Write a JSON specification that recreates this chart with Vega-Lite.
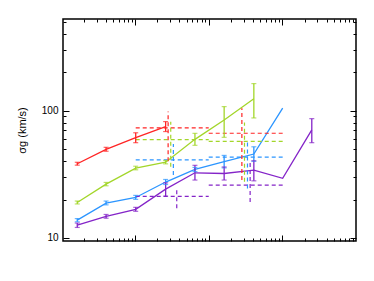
{
  "$schema": "https://vega.github.io/schema/vega-lite/v6.json",
  "width": 293,
  "height": 222,
  "autosize": "none",
  "padding": {"left": 63, "top": 19, "right": 18, "bottom": 40},
  "background": "white",
  "config": {
    "view": {"stroke": "black", "strokeWidth": 1.5},
    "axis": {"domainColor": "black", "tickColor": "black", "labelColor": "black", "titleColor": "black", "labelFont": "Liberation Sans", "titleFont": "Liberation Sans", "grid": false, "domainWidth": 1, "tickWidth": 1}
  },
  "datasets": {
    "pts": [
      {"s": "red", "x": 0.164, "y": 38.3, "lo": 37.3, "hi": 39.3},
      {"s": "red", "x": 0.404, "y": 49.7, "lo": 48.0, "hi": 51.5},
      {"s": "red", "x": 1.02, "y": 61.3, "lo": 56.0, "hi": 67.0},
      {"s": "red", "x": 2.6, "y": 74.8, "lo": 68.5, "hi": 82.0},
      {"s": "green", "x": 0.164, "y": 19.0, "lo": 18.5, "hi": 19.5},
      {"s": "green", "x": 0.404, "y": 26.5, "lo": 25.7, "hi": 27.3},
      {"s": "green", "x": 1.02, "y": 35.4, "lo": 34.3, "hi": 36.6},
      {"s": "green", "x": 2.6, "y": 39.4, "lo": 38.2, "hi": 40.6},
      {"s": "green", "x": 6.5, "y": 59.5, "lo": 53.4, "hi": 66.3},
      {"s": "green", "x": 16.2, "y": 84.5, "lo": 61.7, "hi": 107.5},
      {"s": "green", "x": 41, "y": 124, "lo": 87.6, "hi": 163},
      {"s": "blue", "x": 0.164, "y": 13.8, "lo": 13.4, "hi": 14.2},
      {"s": "blue", "x": 0.404, "y": 18.8, "lo": 18.2, "hi": 19.5},
      {"s": "blue", "x": 1.02, "y": 20.8, "lo": 20.1, "hi": 21.6},
      {"s": "blue", "x": 2.6, "y": 27.5, "lo": 26.3, "hi": 28.8},
      {"s": "blue", "x": 6.5, "y": 34.5, "lo": 33.2, "hi": 35.8},
      {"s": "blue", "x": 16.2, "y": 39.7, "lo": 35.5, "hi": 44.5},
      {"s": "blue", "x": 41, "y": 45.6, "lo": 40.0, "hi": 52.0},
      {"s": "blue", "x": 101, "y": 104.5, "lo": null, "hi": null},
      {"s": "purple", "x": 0.164, "y": 12.6, "lo": 12.1, "hi": 13.1},
      {"s": "purple", "x": 0.404, "y": 14.8, "lo": 14.3, "hi": 15.3},
      {"s": "purple", "x": 1.02, "y": 16.8, "lo": 16.2, "hi": 17.4},
      {"s": "purple", "x": 2.6, "y": 24.2, "lo": 21.3, "hi": 27.1},
      {"s": "purple", "x": 6.5, "y": 32.5, "lo": 28.5, "hi": 37.2},
      {"s": "purple", "x": 16.2, "y": 32.1, "lo": 28.5, "hi": 36.1},
      {"s": "purple", "x": 41, "y": 34.1, "lo": 28.1, "hi": 40.4},
      {"s": "purple", "x": 101, "y": 29.4, "lo": null, "hi": null},
      {"s": "purple", "x": 251, "y": 70.5, "lo": 56.0, "hi": 86.5}
    ],
    "hsegs": [
      {"s": "red", "x": 1.02, "x2": 10, "y": 73.1},
      {"s": "red", "x": 10, "x2": 101, "y": 66.4},
      {"s": "green", "x": 1.02, "x2": 10, "y": 59.1},
      {"s": "green", "x": 10, "x2": 101, "y": 57.4},
      {"s": "blue", "x": 1.02, "x2": 10, "y": 41.1},
      {"s": "blue", "x": 10, "x2": 101, "y": 43.2},
      {"s": "purple", "x": 1.02, "x2": 10, "y": 21.2},
      {"s": "purple", "x": 10, "x2": 101, "y": 26.0}
    ],
    "vsegs": [
      {"s": "red", "x": 2.81, "y": 40.0, "y2": 98.3},
      {"s": "red", "x": 28.2, "y": 28.5, "y2": 104.4},
      {"s": "green", "x": 3.05, "y": 36.2, "y2": 81.9},
      {"s": "green", "x": 30.6, "y": 27.6, "y2": 80.5},
      {"s": "blue", "x": 3.31, "y": 31.2, "y2": 54.7},
      {"s": "blue", "x": 33.6, "y": 24.5, "y2": 58.8},
      {"s": "purple", "x": 3.68, "y": 17.1, "y2": 24.5},
      {"s": "purple", "x": 36.5, "y": 19.2, "y2": 40.9}
    ]
  },
  "layer": [
    {
      "data": {"name": "pts"},
      "mark": {"type": "line", "strokeWidth": 1.3},
      "encoding": {
        "x": {"field": "x", "type": "quantitative", "scale": {"type": "log", "domain": [0.105, 1000]},
          "axis": {"orient": "bottom", "title": null, "labels": false, "domain": false,
            "values": [0.2,0.3,0.4,0.5,0.6,0.7,0.8,0.9,1,2,3,4,5,6,7,8,9,10,20,30,40,50,60,70,80,90,100,200,300,400,500,600,700,800,900],
            "tickSize": {"condition": {"test": "datum.value == 1 || datum.value == 10 || datum.value == 100", "value": -6}, "value": -3}}},
        "y": {"field": "y", "type": "quantitative", "scale": {"type": "log", "domain": [9.47, 524]},
          "axis": {"orient": "left", "title": "σg (km/s)", "titleFontWeight": "normal", "titleFontSize": 11, "titlePadding": 14, "domain": false,
            "labelFontSize": 10, "labelPadding": 11,
            "values": [10,20,30,40,50,60,70,80,90,100,200,300,400,500],
            "labelExpr": "datum.value == 10 || datum.value == 100 ? datum.value : ''",
            "tickSize": {"condition": {"test": "datum.value == 10 || datum.value == 100", "value": -6}, "value": -3}}},
        "color": {"field": "s", "type": "nominal", "scale": {"domain": ["red", "green", "blue", "purple"], "range": ["#ff2424", "#a3d62a", "#2b95ff", "#8424c8"]}, "legend": null}
      }
    },
    {
      "data": {"name": "hsegs"},
      "mark": {"type": "rule", "strokeDash": [4, 3], "strokeWidth": 1.2},
      "encoding": {
        "x": {"field": "x", "type": "quantitative", "scale": {"type": "log", "domain": [0.105, 1000]},
          "axis": {"orient": "top", "title": null, "labels": false, "domain": false,
            "values": [0.2,0.3,0.4,0.5,0.6,0.7,0.8,0.9,1,2,3,4,5,6,7,8,9,10,20,30,40,50,60,70,80,90,100,200,300,400,500,600,700,800,900],
            "tickSize": {"condition": {"test": "datum.value == 1 || datum.value == 10 || datum.value == 100", "value": -6}, "value": -3}}},
        "x2": {"field": "x2"},
        "y": {"field": "y", "type": "quantitative", "scale": {"type": "log", "domain": [9.47, 524]},
          "axis": {"orient": "right", "title": null, "labels": false, "domain": false,
            "values": [10,20,30,40,50,60,70,80,90,100,200,300,400,500],
            "tickSize": {"condition": {"test": "datum.value == 10 || datum.value == 100", "value": -6}, "value": -3}}},
        "color": {"field": "s", "type": "nominal", "legend": null}
      }
    },
    {
      "data": {"name": "vsegs"},
      "mark": {"type": "rule", "strokeDash": [4, 3], "strokeWidth": 1.2},
      "encoding": {
        "x": {"field": "x", "type": "quantitative", "scale": {"type": "log", "domain": [0.105, 1000]}, "axis": null},
        "y": {"field": "y", "type": "quantitative", "scale": {"type": "log", "domain": [9.47, 524]}, "axis": null},
        "y2": {"field": "y2"},
        "color": {"field": "s", "type": "nominal", "legend": null}
      }
    },
    {
      "data": {"name": "pts"},
      "transform": [{"filter": "isValid(datum.lo)"}],
      "mark": {"type": "rule", "strokeWidth": 1.3},
      "encoding": {
        "x": {"field": "x", "type": "quantitative", "scale": {"type": "log", "domain": [0.105, 1000]}, "axis": null},
        "y": {"field": "lo", "type": "quantitative", "scale": {"type": "log", "domain": [9.47, 524]}, "axis": null},
        "y2": {"field": "hi"},
        "color": {"field": "s", "type": "nominal", "legend": null}
      }
    },
    {
      "data": {"name": "pts"},
      "transform": [{"filter": "isValid(datum.lo)"}],
      "mark": {"type": "tick", "orient": "horizontal", "size": 5, "thickness": 1.2},
      "encoding": {
        "x": {"field": "x", "type": "quantitative", "scale": {"type": "log", "domain": [0.105, 1000]}, "axis": null},
        "y": {"field": "lo", "type": "quantitative", "scale": {"type": "log", "domain": [9.47, 524]}, "axis": null},
        "color": {"field": "s", "type": "nominal", "legend": null}
      }
    },
    {
      "data": {"name": "pts"},
      "transform": [{"filter": "isValid(datum.lo)"}],
      "mark": {"type": "tick", "orient": "horizontal", "size": 5, "thickness": 1.2},
      "encoding": {
        "x": {"field": "x", "type": "quantitative", "scale": {"type": "log", "domain": [0.105, 1000]}, "axis": null},
        "y": {"field": "hi", "type": "quantitative", "scale": {"type": "log", "domain": [9.47, 524]}, "axis": null},
        "color": {"field": "s", "type": "nominal", "legend": null}
      }
    }
  ],
  "resolve": {"axis": {"x": "independent", "y": "independent"}}
}
